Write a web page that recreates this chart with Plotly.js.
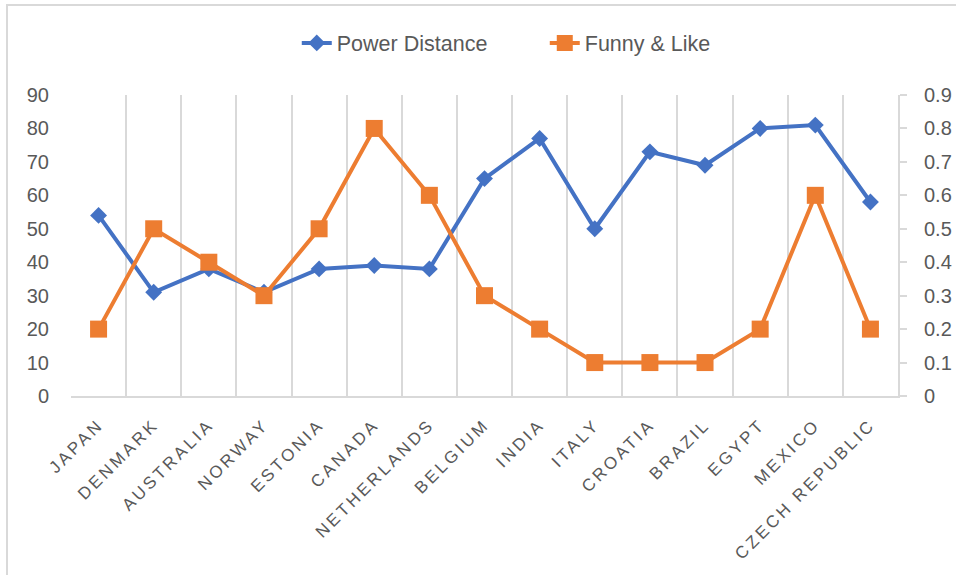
<!DOCTYPE html>
<html>
<head>
<meta charset="utf-8">
<script src="https://cdn.plot.ly/plotly-3.0.1.min.js"></script>
<style>
  html, body { margin: 0; padding: 0; background: #fff; }
  #wrap { position: relative; width: 956px; height: 575px; overflow: hidden; }
  #frame { position: absolute; left: 6px; top: 4px; width: 1000px; height: 1000px;
           border-left: 2px solid #d9d9d9; border-top: 2px solid #d9d9d9; pointer-events: none; }
  #chart { position: absolute; left: 0; top: 0; width: 956px; height: 575px; }
  .xtick text { letter-spacing: 3px; }
</style>
</head>
<body>
<div id="wrap">
  <div id="chart"></div>
  <div id="frame"></div>
</div>
<script>
const countries = ["JAPAN", "DENMARK", "AUSTRALIA", "NORWAY", "ESTONIA", "CANADA", "NETHERLANDS",
                   "BELGIUM", "INDIA", "ITALY", "CROATIA", "BRAZIL", "EGYPT", "MEXICO", "CZECH REPUBLIC"];
const powerDistance = [54, 31, 38, 31, 38, 39, 38, 65, 77, 50, 73, 69, 80, 81, 58];
const funnyLike = [0.2, 0.5, 0.4, 0.3, 0.5, 0.8, 0.6, 0.3, 0.2, 0.1, 0.1, 0.1, 0.2, 0.6, 0.2];
const leftTicks = [0, 10, 20, 30, 40, 50, 60, 70, 80, 90];
const rightTicks = [0, 0.1, 0.2, 0.3, 0.4, 0.5, 0.6, 0.7, 0.8, 0.9];
const rightTickText = ["0", "0.1", "0.2", "0.3", "0.4", "0.5", "0.6", "0.7", "0.8", "0.9"];

const FONT = "Liberation Sans, Arial, sans-serif";
const GRAY = "#595959";
const GRID = "#d9d9d9";

const traces = [
  {
    name: "Power Distance", x: countries, y: powerDistance, type: "scatter", mode: "lines+markers",
    line: { color: "#4472C4", width: 4 },
    marker: { symbol: "diamond", size: 13, color: "#4472C4" },
    yaxis: "y"
  },
  {
    name: "Funny & Like", x: countries, y: funnyLike, type: "scatter", mode: "lines+markers",
    line: { color: "#ED7D31", width: 4 },
    marker: { symbol: "square", size: 17, color: "#ED7D31" },
    yaxis: "y2"
  }
];

const layout = {
  width: 956, height: 575, autosize: false,
  margin: { l: 71, r: 58, t: 95, b: 179 },
  paper_bgcolor: "#fff", plot_bgcolor: "#fff",
  font: { family: FONT, color: GRAY, size: 20 },
  showlegend: true,
  legend: {
    orientation: "h", x: 0.273, xanchor: "left", y: 1.173, yanchor: "middle",
    entrywidth: 203, entrywidthmode: "pixels",
    font: { family: FONT, size: 21.5, color: GRAY }, bgcolor: "rgba(0,0,0,0)"
  },
  xaxis: {
    type: "category", range: [-0.5, 14.5], fixedrange: true,
    tickson: "boundaries", showgrid: true, gridcolor: GRID, gridwidth: 2,
    showline: true, linecolor: GRID, linewidth: 2,
    ticks: "", tickangle: -45, ticklabelstandoff: 10,
    tickfont: { family: FONT, size: 17, color: GRAY },
    zeroline: false
  },
  yaxis: {
    range: [0, 90], tickvals: leftTicks, showgrid: false, zeroline: false,
    showline: false, ticks: "", ticklabelstandoff: 21,
    tickfont: { family: FONT, size: 20, color: GRAY }
  },
  yaxis2: {
    overlaying: "y", side: "right", range: [0, 0.9], tickvals: rightTicks, ticktext: rightTickText,
    showgrid: false, zeroline: false, showline: true, linecolor: GRID, linewidth: 2,
    ticks: "outside", ticklen: 7, tickwidth: 2, tickcolor: GRID, ticklabelstandoff: 13,
    tickfont: { family: FONT, size: 20, color: GRAY }
  }
};

Plotly.newPlot("chart", traces, layout, { displayModeBar: false, staticPlot: true });
</script>
</body>
</html>
